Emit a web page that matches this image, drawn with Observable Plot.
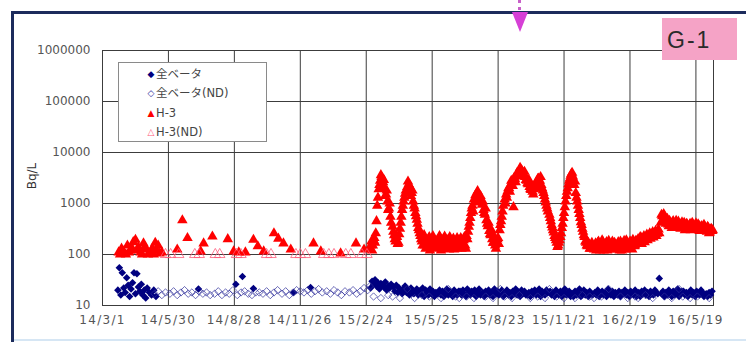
<!DOCTYPE html>
<html><head><meta charset="utf-8">
<script src="https://cdn.jsdelivr.net/npm/d3@7"></script>
<script src="https://cdn.jsdelivr.net/npm/@observablehq/plot@0.6"></script>
<style>
html,body{margin:0;padding:0;background:#fff;overflow:hidden}
#wrap{position:relative;width:746px;height:342px;font-family:"DejaVu Sans",sans-serif}
#chart{position:absolute;left:0;top:0}
#chart svg [aria-label^="x-axis"] text{letter-spacing:1.3px}
.bt{position:absolute;left:11px;top:11px;width:735px;height:3px;background:#1c2b5c}
.bl{position:absolute;left:11px;top:11px;width:3px;height:331px;background:#1c2b5c}
.bb{position:absolute;left:14px;top:339px;width:732px;height:2px;background:#d6e6f4}
.stem{position:absolute;left:518px;top:0;width:0;height:10px;border-left:3px dotted #c860c8}
.arrow{position:absolute;left:512px;top:12px;width:0;height:0;border-left:8px solid transparent;border-right:8px solid transparent;border-top:20px solid #d63fd6}
#tag{position:absolute;left:662px;top:18px;width:75px;height:42px;background:#f5a3c6;font-family:"Liberation Sans",Arial,sans-serif;font-size:23px;line-height:44px;color:#2a2a2a;padding-left:5px;box-sizing:border-box;letter-spacing:2px}
#legend{position:absolute;left:118px;top:62px;width:147px;height:78px;border:1px solid #8a8a8a;background:#fff}
.row{position:absolute;left:0;height:18px;line-height:18px;font-size:11.5px;color:#444;font-family:"DejaVu Sans","Noto Sans CJK JP",sans-serif}
.mk{position:absolute;left:27px;width:10px;text-align:center;font-size:9px}
.lb{position:absolute;left:37px;white-space:nowrap}
#ylab{position:absolute;left:12px;top:168px;width:40px;height:16px;line-height:16px;text-align:center;font-size:12px;color:#333;transform:rotate(-90deg);font-family:"DejaVu Sans",sans-serif}
</style></head>
<body>
<div id="wrap">
  <div id="chart"></div>
  <div class="bt"></div><div class="bl"></div><div class="bb"></div>
  <div class="stem"></div><div class="arrow"></div>
  <div id="tag">G-1</div>
  <div id="legend"></div>
  <div id="ylab"></div>
</div>
<script>
// ---- axis ticks / titles ----
const xTickDates = ["2014-03-01","2014-05-30","2014-08-28","2014-11-26","2015-02-24","2015-05-25","2015-08-23","2015-11-21","2016-02-19","2016-05-19"];
const xDomain = ["2014-03-01","2016-06-12"];
const yTicks = [10, 100, 1000, 10000, 100000, 1000000];
const yTitle = "Bq/L";
const tagText = "G-1";

// ---- legend labels ----
const seriesNames = ["全ベータ", "全ベータ(ND)", "H-3", "H-3(ND)"];
const seriesColors = ["#000080", "#2c2c9a", "#ff0000", "#ff5a7a"];
const seriesGlyphs = ["◆", "◇", "▲", "△"];

// ---- H-3 (detected), sparse period ----
const h3Early = [
["2014-03-23",110],["2014-03-25",100],["2014-03-27",130],["2014-03-29",115],["2014-03-31",105],["2014-04-02",100],
["2014-04-04",150],["2014-04-06",110],["2014-04-08",120],["2014-04-10",135],["2014-04-12",175],["2014-04-15",195],
["2014-04-17",120],["2014-04-19",140],["2014-04-22",110],["2014-04-24",100],["2014-04-26",165],["2014-04-28",140],
["2014-04-30",125],["2014-05-02",100],["2014-05-04",105],["2014-05-06",115],["2014-05-08",130],["2014-05-10",100],
["2014-05-12",170],["2014-05-14",120],["2014-05-16",150],["2014-05-18",105],["2014-05-21",110],
["2014-06-11",125],["2014-06-18",470],["2014-06-25",210],["2014-07-13",115],["2014-07-17",165],["2014-07-29",225],
["2014-08-19",200],["2014-08-27",115],["2014-09-03",110],["2014-09-12",110],["2014-09-23",195],["2014-09-29",145],
["2014-10-07",115],["2014-10-21",260],["2014-10-27",205],["2014-11-03",165],["2014-11-13",125],["2014-12-14",165],
["2014-12-24",115],["2015-01-20",105],["2015-02-10",165],["2015-02-21",125]
];

// ---- H-3 (detected), dense period: month -> values on odd sampling days ----
const h3OddDays = [1,3,5,7,9,11,13,15,17,19,21,23,25,27,29];
const h3MonthlyOdd = [
["2015-03",[130,180,150,210,260,900,1900,2800,3300,2600,2000,1500,1100,800,550]],
["2015-04",[350,240,180,220,170,320,550,900,1300,1800,2100,2400,2000,1600,1100]],
["2015-05",[800,560,400,300,230,180,210,150,190,135,220,160,140,200,150]],
["2015-06",[185,140,210,130,170,225,150,190,125,175,140,205,160,130,195]],
["2015-07",[160,210,140,190,150,230,280,420,650,900,1200,1450,1600,1500,1250]],
["2015-08",[950,750,600,470,360,290,240,200,170,150,180,210,300,450,700]],
["2015-09",[1200,1500,1750,2000,2300,2600,850,3000,3400,3900,4400,4700,4300,3800,3300]],
["2015-10",[2800,2400,2100,1850,1700,1900,2300,2700,3100,2800,2300,1800,1400,1050,800]],
["2015-11",[600,450,340,270,210,170,150,190,260,400,650,1100,1700,2400,3100]],
["2015-12",[3800,3400,2300,1600,1100,750,520,380,280,220,170,145,160,130,170]],
["2016-01",[125,165,140,180,120,150,175,130,160,120,185,140,155,125,170]],
["2016-02",[135,175,120,160,145,185,125,170,140,180,150,195,145,185,160]],
["2016-03",[200,170,215,185,230,200,245,210,260,225,275,240,290,255,310]],
["2016-04",[420,560,620,520,440,390,460,370,430,350,410,340,440,360,400]],
["2016-05",[350,420,330,390,310,400,340,380,320,410,330,370,300,360,290]],
["2016-06",[340,280,330,270,320,300]]
];
// ---- H-3 (detected), dense period: values on even sampling days ----
const h3EvenDays = [2,4,6,8,10,12,14,16,18,20,22,24,26,28,30];
const h3MonthlyEven = [
["2015-03",[150,120,190,170,450,1300,2300,3600,2200,2900,1400,1800,750,1000,420]],
["2015-04",[280,200,230,160,250,420,750,1100,1550,1600,2700,2200,1400,1800,900]],
["2015-05",[650,480,330,260,200,150,240,130,170,200,120,180,230,130,170]],
["2015-06",[160,230,120,190,150,200,130,175,220,140,190,125,170,210,150]],
["2015-07",[190,130,170,220,130,200,350,520,800,700,1050,1300,1750,1100,1400]],
["2015-08",[1100,650,800,400,420,250,300,170,220,130,200,160,380,550,900]],
["2015-09",[1000,1300,2000,1700,2800,2200,3200,2600,4000,3600,5000,4100,3500,4200,2900]],
["2015-10",[2500,2900,1900,2200,1500,2100,2000,3000,2600,3300,2000,1600,1200,900,700]],
["2015-11",[520,380,300,230,190,140,170,220,330,520,850,1400,2000,2800,3500]],
["2015-12",[4000,2800,2700,1300,900,620,430,320,240,180,150,170,130,150,140]],
["2016-01",[150,120,170,135,160,190,120,145,175,135,160,125,180,140,150]],
["2016-02",[160,130,180,120,165,140,190,130,155,175,125,170,150,180]],
["2016-03",[185,220,160,200,175,220,190,230,205,250,215,265,230,280,260]],
["2016-04",[600,480,560,400,500,360,420,330,450,380,460,350,390,320,430]],
["2016-05",[380,300,400,340,370,300,420,310,360,330,390,290,350,310,380]],
["2016-06",[300,350,260,310,290]]
];

// ---- H-3 (ND) ----
const h3ND = [
["2014-05-26",100],["2014-06-02",100],["2014-06-13",100],["2014-07-05",100],["2014-07-11",100],["2014-08-02",100],
["2014-08-08",100],["2014-08-31",100],["2014-09-06",100],["2014-10-11",100],["2014-10-17",100],["2014-11-20",100],
["2014-11-26",100],["2014-12-03",100],["2014-12-28",100],["2015-01-04",100],["2015-01-11",100],["2015-01-27",100],
["2015-02-03",100],["2015-02-18",100],["2015-02-25",100]
];

// ---- 全ベータ (detected), sparse period ----
const betaEarly = [
["2014-03-22",20],["2014-03-24",55],["2014-03-26",16],["2014-03-28",44],["2014-03-30",22],["2014-04-01",18],
["2014-04-03",35],["2014-04-05",25],["2014-04-07",15],["2014-04-09",21],["2014-04-11",28],["2014-04-13",44],
["2014-04-15",17],["2014-04-17",42],["2014-04-19",23],["2014-04-21",19],["2014-04-23",26],["2014-04-25",16],
["2014-04-27",20],["2014-04-29",14],["2014-05-01",22],["2014-05-04",18],["2014-05-07",16],["2014-05-10",20],
["2014-05-13",15],
["2014-07-10",21],["2014-08-30",26],["2014-09-08",37],["2014-09-23",21.5],["2014-11-17",18],["2014-12-10",22.5]
];

// ---- 全ベータ (detected), dense period ----
const betaDays = [2,4,6,8,10,12,14,16,18,20,22,24,26,28,30];
const betaMonthly = [
["2015-03",[22,30,26,32,24,28,21,27,25,23,29,20,24,22,26]],
["2015-04",[23,19,25,18,22,20,17,21,24,18,20,16,22,19,17]],
["2015-05",[18,21,16,19,17,22,15,20,18,16,21,17,19,15,18]],
["2015-06",[17,20,16,19,15,18,21,16,19,17,15,20,18,16,19]],
["2015-07",[19,16,20,17,15,21,18,16,19,17,20,15,18,21,16]],
["2015-08",[18,15,19,17,20,16,18,15,21,17,19,16,18,20,15]],
["2015-09",[17,20,16,18,15,19,17,21,16,18,15,20,17,19,16]],
["2015-10",[16,18,15,19,17,20,16,18,21,15,19,17,16,20,18]],
["2015-11",[19,16,18,15,20,17,16,19,15,18,21,16,17,19,15]],
["2015-12",[17,15,19,16,18,21,15,17,20,16,18,15,19,17,16]],
["2016-01",[18,16,20,15,17,19,16,18,15,21,17,16,19,15,18]],
["2016-02",[16,19,15,18,17,20,16,18,15,19,17,16,20,15]],
["2016-03",[18,15,19,17,20,16,18,15,19,17,16,20,18,17,34]],
["2016-04",[17,19,15,18,16,20,17,15,19,16,18,21,15,17,19]],
["2016-05",[19,16,18,15,17,20,16,18,15,19,17,16,20,18,15]],
["2016-06",[17,15,18,16,19]]
];

// ---- 全ベータ (ND) ----
const betaNDDays = [1,6,11,16,21,26];
const betaNDMonthly = [
["2014-05",[null,null,17,19,16,18]],
["2014-06",[17,19,16,18,20,17]],
["2014-07",[18,16,19,17,18,16]],
["2014-08",[17,19,16,18,17,20]],
["2014-09",[16,18,19,17,16,18]],
["2014-10",[18,17,19,16,18,20]],
["2014-11",[17,19,16,18,20,19]],
["2014-12",[18,20,17,19,21,18]],
["2015-01",[19,17,20,18,16,19]],
["2015-02",[18,20,17,19,22,20]],
["2015-03",[24,15,null,14,null,16]],
["2015-04",[15,null,14,null,21,null]],
["2015-05",[14,null,16,null,15,null]],
["2015-06",[null,14,null,21,null,15]],
["2015-07",[14,null,15,null,14,null]],
["2015-08",[null,15,null,14,null,21]],
["2015-09",[15,null,14,null,16,null]],
["2015-10",[null,14,null,15,null,14]],
["2015-11",[21,null,15,null,14,null]],
["2015-12",[null,14,null,16,null,15]],
["2016-01",[14,null,15,null,21,null]],
["2016-02",[null,15,null,14,null,15]],
["2016-03",[14,null,16,null,14,null]],
["2016-04",[null,15,null,14,null,21]],
["2016-05",[15,null,14,null,15,null]],
["2016-06",[null,14]]
];

const parse = d3.utcParse("%Y-%m-%d");
const pairs = arr => arr.map(([d, v]) => ({date: parse(d), value: v}));
const monthly = (rows, days) => rows.flatMap(([m, vals]) =>
  vals.map((v, i) => v == null ? null : {date: parse(`${m}-${String(days[i]).padStart(2, "0")}`), value: v}).filter(Boolean));

const h3 = pairs(h3Early).concat(monthly(h3MonthlyOdd, h3OddDays), monthly(h3MonthlyEven, h3EvenDays))
  .sort((a, b) => a.date - b.date);
const h3NDRows = pairs(h3ND);
const beta = pairs(betaEarly).concat(monthly(betaMonthly, betaDays));
const betaND = monthly(betaNDMonthly, betaNDDays);
const xTicks = xTickDates.map(parse);
const fmt = d3.utcFormat("%y/%-m/%-d");

const gridColor = "#3c3c3c";
const chart = Plot.plot({
  width: 746, height: 342,
  marginLeft: 102, marginRight: 33, marginTop: 50, marginBottom: 37,
  style: {fontFamily: "DejaVu Sans, sans-serif", fontSize: "12px", color: "#555", background: "transparent"},
  x: {type: "utc", domain: xDomain.map(parse), ticks: xTicks, tickFormat: fmt, tickSize: 0, tickPadding: 10, label: null},
  y: {type: "log", domain: [10, 1000000], ticks: yTicks, tickFormat: d => String(d), tickSize: 0, tickPadding: 12, label: null},
  marks: [
    Plot.ruleY(yTicks, {stroke: gridColor, strokeWidth: 1}),
    Plot.ruleX(xTicks, {stroke: gridColor, strokeWidth: 1}),
    Plot.frame({stroke: gridColor}),
    Plot.dot(beta, {x: "date", y: "value", symbol: "diamond2", r: 3.4, fill: seriesColors[0], stroke: "none"}),
    Plot.dot(betaND, {x: "date", y: "value", symbol: "diamond2", r: 3.3, fill: "none", stroke: seriesColors[1], strokeWidth: 0.7}),
    Plot.dot(h3, {x: "date", y: "value", symbol: "triangle", r: 3.9, fill: seriesColors[2], stroke: "none"}),
    Plot.dot(h3NDRows, {x: "date", y: "value", symbol: "triangle", r: 3.9, fill: "none", stroke: seriesColors[3], strokeWidth: 0.8})
  ]
});
document.getElementById("chart").appendChild(chart);
document.getElementById("ylab").textContent = yTitle;
document.getElementById("tag").textContent = tagText;

// legend
const legend = document.getElementById("legend");
const rowTops = [2, 21, 40.5, 60];
seriesNames.forEach((name, i) => {
  const row = document.createElement("div");
  row.className = "row";
  row.style.top = rowTops[i] + "px";
  row.innerHTML = `<span class="mk" style="color:${seriesColors[i]}">${seriesGlyphs[i]}</span><span class="lb">${name}</span>`;
  legend.appendChild(row);
});
</script>
</body></html>
